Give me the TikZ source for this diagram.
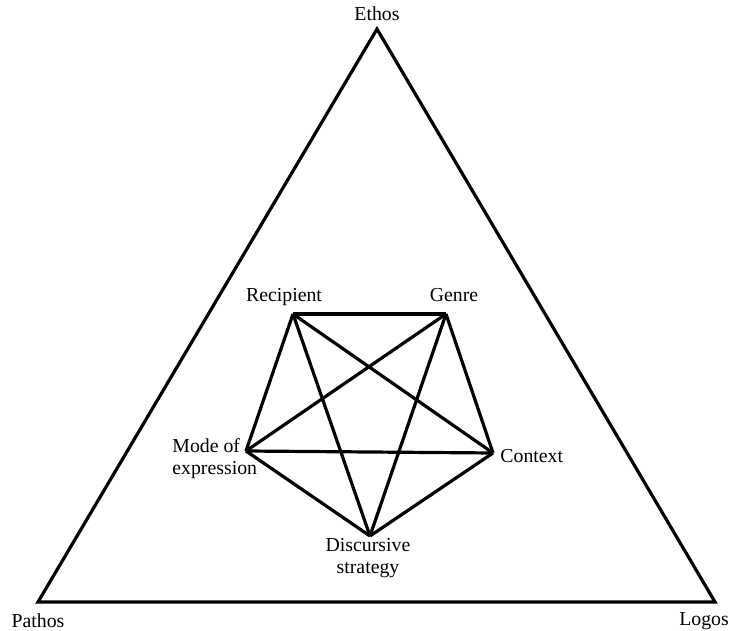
\documentclass[tikz,border=0pt]{standalone}
\usepackage{fontspec}
\setmainfont{Liberation Serif}
\begin{document}
\begin{tikzpicture}[x=0.5pt,y=-0.5pt,
  edge/.style={line width=1.6pt},
  lbl/.style={inner sep=0pt,font=\fontsize{9.9}{11}\selectfont}]
\useasboundingbox (0,0) rectangle (730,631);
% triangle corners
\coordinate (E) at (377,29);
\coordinate (P) at (38,602);
\coordinate (L) at (715,602);
\draw[edge] (E) -- (P) -- (L) -- cycle;
% pentagon vertices
\coordinate (R) at (293,314);
\coordinate (G) at (446,314);
\coordinate (C) at (493,453);
\coordinate (D) at (370,536);
\coordinate (M) at (246,451);
\foreach \a/\b in {R/G,G/C,C/D,D/M,M/R,R/C,R/D,G/M,G/D,M/C}
  \draw[edge] (\a) -- (\b);
% labels
\node[lbl,anchor=base] (ethos) at (377,21) {Ethos};
\node[lbl,anchor=base] (pathos) at (38,627) {Pathos};
\node[lbl,anchor=base] (logos) at (704,625) {Logos};
\node[lbl,anchor=base] (recipient) at (284,302) {Recipient};
\node[lbl,anchor=base] (genre) at (454,302) {Genre};
\node[lbl,anchor=base west] (context) at (500,463) {Context};
\node[lbl,anchor=north west,align=left] (mode) at (172,438) {Mode of\\expression};
\node[lbl,anchor=north,align=center] (disc) at (368,537.5) {Discursive\\strategy};
\end{tikzpicture}
\end{document}
